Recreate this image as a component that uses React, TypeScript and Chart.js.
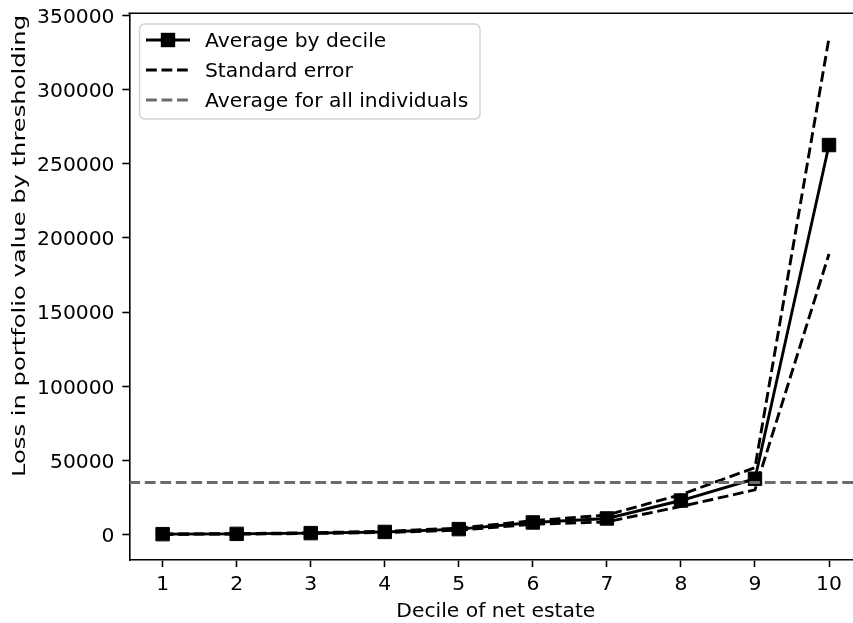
import React, { useEffect, useRef } from 'react';
import { Chart, registerables } from 'chart.js';

Chart.register(...registerables);

const deciles = [1, 2, 3, 4, 5, 6, 7, 8, 9, 10];
const averageByDecile = [100, 300, 800, 1600, 3500, 8000, 10700, 22800, 37500, 262700];
const upperError = [150, 450, 1050, 2000, 4200, 9200, 13000, 26800, 45000, 335000];
const lowerError = [50, 150, 550, 1200, 2800, 6800, 8400, 18800, 30000, 189200];
const overallAverage = 35000;
const xTicks = [1, 2, 3, 4, 5, 6, 7, 8, 9, 10];
const yTicks = [0, 50000, 100000, 150000, 200000, 250000, 300000, 350000];
const legendLabels = ['Average by decile', 'Standard error', 'Average for all individuals'];
const xTitle = 'Decile of net estate';
const yTitle = 'Loss in portfolio value by thresholding';

// full axis range is 0.55..10.45; the picture is cropped at about 10.32
const X_MIN = 0.55;
const X_FULL_MAX = 10.45;
const X_VISIBLE_MAX = 10.324;
const Y_MIN = -17340;
const Y_MAX = 351600;

const FONT = '"DejaVu Sans", sans-serif';
const FS = 20.3;
const LW = 2.9;
const DASH = [10.8, 4.7];
const GRAY = '#6b6b6b';

const decorPlugin = {
  id: 'decor',
  afterDraw(chart: any) {
    const { ctx, chartArea: a } = chart;
    const xs = chart.scales.x;
    const ys = chart.scales.y;
    ctx.save();
    // top spine
    ctx.strokeStyle = '#000';
    ctx.lineWidth = 1.6;
    ctx.setLineDash([]);
    ctx.beginPath();
    ctx.moveTo(a.left - 0.8, a.top);
    ctx.lineTo(a.right, a.top);
    ctx.stroke();

    ctx.fillStyle = '#000';
    ctx.font = `${FS}px ${FONT}`;

    // tick labels
    ctx.textAlign = 'center';
    ctx.textBaseline = 'alphabetic';
    xTicks.forEach((v) => {
      ctx.fillText(String(v), xs.getPixelForValue(v), 590);
    });
    ctx.textAlign = 'right';
    yTicks.forEach((v) => {
      ctx.fillText(String(v), 114.5, ys.getPixelForValue(v) + 7.4);
    });

    // axis titles
    ctx.textAlign = 'center';
    ctx.textBaseline = 'alphabetic';
    ctx.fillText(xTitle, xs.getPixelForValue((X_MIN + X_FULL_MAX) / 2), 617.3);
    ctx.save();
    ctx.translate(24.5, 246);
    ctx.rotate(-Math.PI / 2);
    const w = ctx.measureText(yTitle).width;
    ctx.scale(462 / w, 0.86);
    ctx.fillText(yTitle, 0, 0);
    ctx.restore();

    // legend
    const lx = a.left + 10.2;
    const ly = a.top + 10.7;
    const lw = 340.5;
    const lh = 95;
    const r = 5;
    ctx.beginPath();
    ctx.moveTo(lx + r, ly);
    ctx.lineTo(lx + lw - r, ly);
    ctx.arcTo(lx + lw, ly, lx + lw, ly + r, r);
    ctx.lineTo(lx + lw, ly + lh - r);
    ctx.arcTo(lx + lw, ly + lh, lx + lw - r, ly + lh, r);
    ctx.lineTo(lx + r, ly + lh);
    ctx.arcTo(lx, ly + lh, lx, ly + lh - r, r);
    ctx.lineTo(lx, ly + r);
    ctx.arcTo(lx, ly, lx + r, ly, r);
    ctx.closePath();
    ctx.fillStyle = 'rgba(255,255,255,0.8)';
    ctx.fill();
    ctx.strokeStyle = 'rgba(204,204,204,0.9)';
    ctx.lineWidth = 1.4;
    ctx.stroke();

    const rows = [ly + 16, ly + 46, ly + 76];
    const hx0 = lx + 6.5;
    const hx1 = lx + 50.5;
    const styles = [
      { color: '#000', dash: [] as number[], marker: true },
      { color: '#000', dash: DASH, marker: false },
      { color: GRAY, dash: DASH, marker: false },
    ];
    styles.forEach((s, i) => {
      ctx.strokeStyle = s.color;
      ctx.lineWidth = LW;
      ctx.setLineDash(s.dash);
      ctx.beginPath();
      ctx.moveTo(hx0, rows[i]);
      ctx.lineTo(hx1, rows[i]);
      ctx.stroke();
      ctx.setLineDash([]);
      if (s.marker) {
        ctx.fillStyle = '#000';
        const sz = 14.4;
        ctx.fillRect((hx0 + hx1) / 2 - sz / 2, rows[i] - sz / 2, sz, sz);
      }
      ctx.fillStyle = '#000';
      ctx.textAlign = 'left';
      ctx.textBaseline = 'alphabetic';
      ctx.fillText(legendLabels[i], lx + 65.5, rows[i] + 7);
    });
    ctx.restore();
  },
};

export default function App() {
  const ref = useRef<HTMLCanvasElement | null>(null);

  useEffect(() => {
    if (!ref.current) return;
    const toPts = (arr: number[]) => deciles.map((d, i) => ({ x: d, y: arr[i] }));
    const tickAxis = {
      display: true,
      drawOnChartArea: false,
      drawTicks: true,
      tickLength: 7,
      tickWidth: 1.6,
      tickColor: '#000',
    };
    const chart = new Chart(ref.current, {
      type: 'line',
      data: {
        datasets: [
          {
            label: legendLabels[0],
            data: toPts(averageByDecile),
            borderColor: '#000',
            borderWidth: LW,
            pointStyle: 'rect',
            pointRadius: 9.5,
            pointBackgroundColor: '#000',
            pointBorderColor: '#000',
            pointBorderWidth: 1,
            tension: 0,
            order: 3,
          },
          {
            label: legendLabels[1],
            data: toPts(upperError),
            borderColor: '#000',
            borderWidth: LW,
            borderDash: DASH,
            pointRadius: 0,
            tension: 0,
            order: 2,
          },
          {
            label: legendLabels[1] + ' (lower)',
            data: toPts(lowerError),
            borderColor: '#000',
            borderWidth: LW,
            borderDash: DASH,
            pointRadius: 0,
            tension: 0,
            order: 2,
          },
          {
            label: legendLabels[2],
            data: [
              { x: X_MIN, y: overallAverage },
              { x: X_FULL_MAX, y: overallAverage },
            ],
            borderColor: GRAY,
            borderWidth: LW,
            borderDash: DASH,
            pointRadius: 0,
            order: 1,
          },
        ],
      },
      options: {
        responsive: false,
        animation: false,
        events: [],
        layout: { autoPadding: false, padding: { left: 0, top: 13.3, right: 0, bottom: 0 } },
        plugins: {
          legend: { display: false },
          tooltip: { enabled: false },
          title: { display: false },
        },
        scales: {
          x: {
            type: 'linear',
            min: X_MIN,
            max: X_VISIBLE_MAX,
            afterBuildTicks: (s: any) => {
              s.ticks = xTicks.map((v) => ({ value: v }));
            },
            afterFit: (s: any) => {
              s.height = 63;
            },
            grid: tickAxis,
            border: { display: true, color: '#000', width: 1.6 },
            ticks: { display: false, autoSkip: false },
          },
          y: {
            type: 'linear',
            min: Y_MIN,
            max: Y_MAX,
            afterBuildTicks: (s: any) => {
              s.ticks = yTicks.map((v) => ({ value: v }));
            },
            afterFit: (s: any) => {
              s.width = 129.3;
            },
            grid: tickAxis,
            border: { display: true, color: '#000', width: 1.6 },
            ticks: { display: false, autoSkip: false },
          },
        },
      },
      plugins: [decorPlugin],
    });
    return () => chart.destroy();
  }, []);

  return (
    <div
      style={{
        position: 'fixed',
        left: 0,
        top: 0,
        width: 853,
        height: 623,
        overflow: 'hidden',
        background: '#fff',
      }}
    >
      <canvas ref={ref} width={853} height={623} style={{ display: 'block', width: 853, height: 623 }} />
    </div>
  );
}
